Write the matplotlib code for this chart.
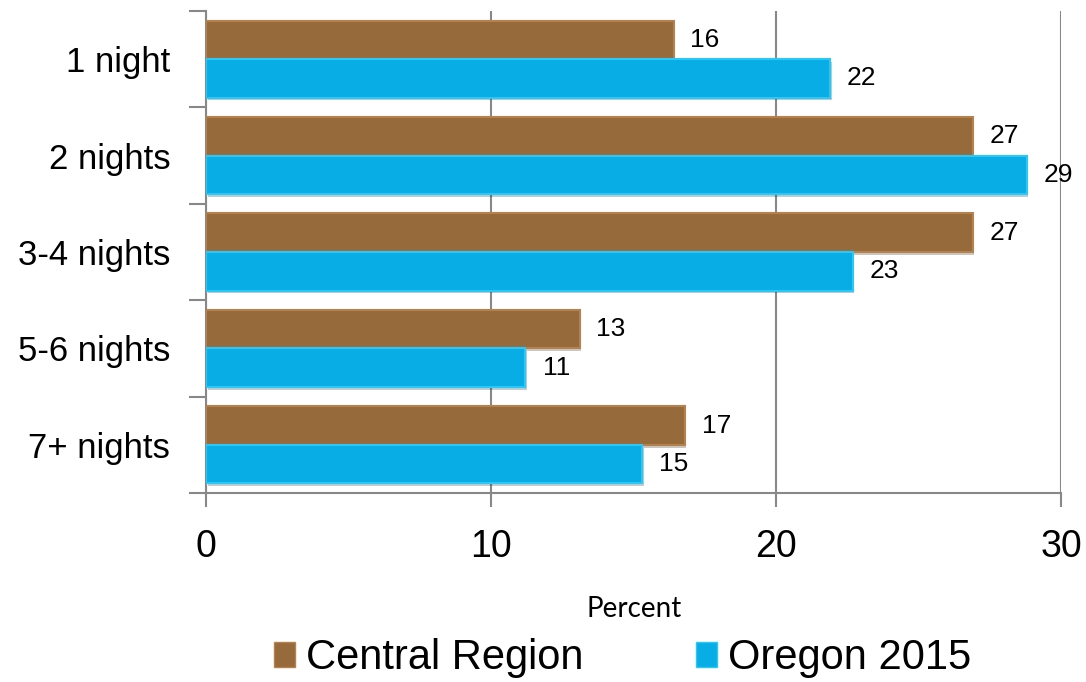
import numpy as np
import matplotlib.pyplot as plt
import matplotlib.patheffects as pe
from matplotlib.patches import Patch

# ==========================================
# DATA
# ==========================================

categories = ["1 night", "2 nights", "3-4 nights", "5-6 nights", "7+ nights"]
central = [16.4, 26.9, 26.9, 13.1, 16.8]
oregon = [21.9, 28.8, 22.7, 11.2, 15.3]
central_labels = ["16", "27", "27", "13", "17"]
oregon_labels = ["22", "29", "23", "11", "15"]

brown = "#976A3B"
brown_edge = "#B5824E"
blue = "#08ADE6"
blue_edge = "#2BC8F7"

plt.rcParams["font.family"] = ["Liberation Sans", "DejaVu Sans"]

# ==========================================
# PLOT
# ==========================================

fig = plt.figure(figsize=(10.86, 6.82), dpi=100)
ax = fig.add_axes([0.19, 0.277, 0.787, 0.707])

y = np.arange(len(categories))
h = 0.4
shadow = [pe.SimplePatchShadow(offset=(1, -2), alpha=0.25), pe.Normal()]

bars1 = ax.barh(y - h / 2, central, height=h, color=brown, edgecolor=brown_edge,
                linewidth=1.5, zorder=3)
bars2 = ax.barh(y + h / 2, oregon, height=h, color=blue, edgecolor=blue_edge,
                linewidth=1.5, zorder=3)
for b in list(bars1) + list(bars2):
    b.set_path_effects(shadow)

for yi, v, lab in zip(y, central, central_labels):
    ax.text(v + 1.1, yi - h / 2, lab, va="center", ha="center", fontsize=19)
for yi, v, lab in zip(y, oregon, oregon_labels):
    ax.text(v + 1.1, yi + h / 2, lab, va="center", ha="center", fontsize=19)

ax.set_ylim(len(categories) - 0.5, -0.5)
ax.set_xlim(0, 30)
ax.set_yticks(y)
ax.set_yticklabels(categories, fontsize=25)
ax.set_yticks(np.arange(len(categories) + 1) - 0.5, minor=True)
ax.tick_params(axis="y", which="major", length=0, pad=26)
ax.tick_params(axis="y", which="minor", length=12, color="#888888", width=1.5)

ax.set_xticks([0, 10, 20, 30])
ax.set_xticklabels(["0", "10", "20", "30"], fontsize=27)
ax.tick_params(axis="x", length=10, color="#888888", width=1.5, pad=16)
ax.xaxis.grid(True, color="#888888", linewidth=1.5, zorder=0)

for s in ["top", "right"]:
    ax.spines[s].set_visible(False)
for s in ["left", "bottom"]:
    ax.spines[s].set_color("#888888")
    ax.spines[s].set_linewidth(1.5)

ax.set_xlabel("Percent", fontsize=20, family=["Lato", "DejaVu Sans"], labelpad=22)

handles = [Patch(facecolor=brown, edgecolor=brown_edge, label="Central Region"),
           Patch(facecolor=blue, edgecolor=blue_edge, label="Oregon 2015")]
fig.legend(handles=handles, loc="center", bbox_to_anchor=(0.573, 0.035), ncol=2,
           frameon=False, fontsize=30, handlelength=0.52, handleheight=0.52,
           handletextpad=0.25, columnspacing=2.7)

plt.savefig("out.png", dpi=100)
plt.close()
